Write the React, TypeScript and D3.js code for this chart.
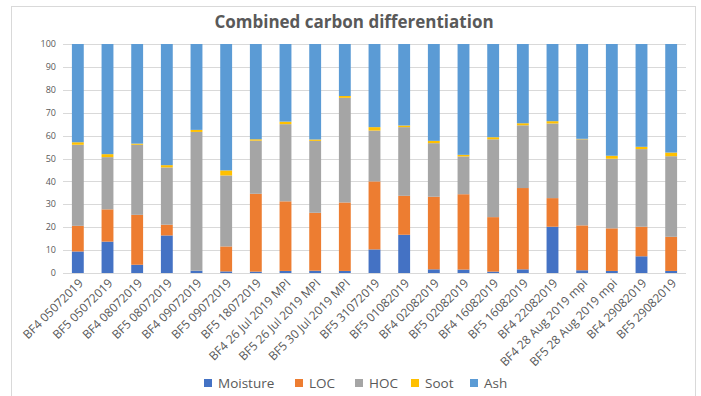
import React from "react";
import * as d3 from "d3";

const categories = [
  "BF4 05072019", "BF5 05072019", "BF4 08072019", "BF5 08072019", "BF4 09072019",
  "BF5 09072019", "BF5 18072019", "BF4 26 Jul 2019 MPI", "BF5 26 Jul 2019 MPI",
  "BF5 30 Jul 2019 MPI", "BF5 31072019", "BF5 01082019", "BF4 02082019", "BF5 02082019",
  "BF4 16082019", "BF5 16082019", "BF4 22082019", "BF4 28 Aug 2019 mpi",
  "BF5 28 Aug 2019 mpi", "BF4 29082019", "BF5 29082019",
];

const moisture = [9.4, 13.7, 3.6, 16.4, 1.0, 0.7, 0.6, 0.9, 1.0, 0.9, 10.3, 16.7, 1.6, 1.5, 0.6, 1.6, 20.2, 1.2, 0.9, 7.3, 0.9];
const loc = [11.2, 14.1, 21.8, 4.7, 0.0, 10.9, 34.0, 30.4, 25.3, 29.9, 29.7, 17.0, 31.7, 32.9, 23.8, 35.5, 12.5, 19.6, 18.6, 12.9, 14.9];
const hoc = [35.4, 22.8, 30.6, 25.0, 60.6, 31.0, 23.2, 33.7, 31.4, 45.7, 22.2, 30.0, 23.4, 16.5, 34.0, 27.4, 32.6, 37.6, 30.4, 33.9, 35.2];
const soot = [1.1, 1.3, 0.5, 1.0, 0.9, 2.2, 0.6, 1.1, 0.6, 0.8, 1.5, 0.7, 1.0, 0.7, 0.9, 0.9, 1.0, 0.2, 1.3, 1.0, 1.6];
const ash = [42.9, 48.1, 43.5, 52.9, 37.5, 55.2, 41.6, 33.9, 41.7, 22.7, 36.3, 35.6, 42.3, 48.4, 40.7, 34.6, 33.7, 41.4, 48.8, 44.9, 47.4];

const seriesNames = ["Moisture", "LOC", "HOC", "Soot", "Ash"];
const seriesValues = [moisture, loc, hoc, soot, ash];
const colors = ["#4472C4", "#ED7D31", "#A5A5A5", "#FFC000", "#5B9BD5"];
const yTicks = [0, 10, 20, 30, 40, 50, 60, 70, 80, 90, 100];

const W = 701;
const H = 396;
const plotLeft = 63;
const plotRight = 686;
const plotTop = 44;
const plotBottom = 273;
const legendX = [204, 295, 355, 411, 470];
const FONT = "'Open Sans', 'Liberation Sans', sans-serif";

export default function App() {
  const x = d3
    .scaleBand<string>()
    .domain(categories)
    .range([plotLeft, plotRight])
    .paddingInner(0.6)
    .paddingOuter(0.3);
  const y = d3.scaleLinear().domain([0, 100]).range([plotBottom, plotTop]);

  const rows = categories.map((c, i) => {
    const r: any = { cat: c };
    seriesNames.forEach((s, k) => (r[s] = seriesValues[k][i]));
    return r;
  });
  const stacked = d3.stack().keys(seriesNames)(rows as any);

  return (
    <svg width={W} height={H} style={{ position: "absolute", left: 0, top: 0, background: "#fff" }}>
      <rect x={11.5} y={6.5} width={684} height={400} fill="#fff" stroke="#d9d9d9" />
      <text x={354} y={28} textAnchor="middle" fontFamily={FONT} fontWeight="bold" fontSize={17} fill="#595959">
        Combined carbon differentiation
      </text>
      {yTicks.map((t) => (
        <g key={t}>
          <line x1={plotLeft} x2={plotRight} y1={Math.round(y(t)) + 0.5} y2={Math.round(y(t)) + 0.5} stroke="#d9d9d9" />
          <text x={56} y={y(t)} dy="0.35em" textAnchor="end" fontFamily={FONT} fontSize={9} fill="#595959">
            {t}
          </text>
        </g>
      ))}
      {stacked.map((layer, k) => (
        <g key={seriesNames[k]} fill={colors[k]}>
          {layer.map((d, i) => (
            <rect
              key={i}
              x={x(categories[i])}
              width={x.bandwidth()}
              y={y(d[1])}
              height={Math.max(0, y(d[0]) - y(d[1]))}
            />
          ))}
        </g>
      ))}
      {categories.map((c) => {
        const cx = (x(c) as number) + x.bandwidth() / 2;
        return (
          <text
            key={c}
            transform={`translate(${cx + 3},${plotBottom + 8}) rotate(-45)`}
            textAnchor="end"
            dy="0.35em"
            fontFamily={FONT}
            fontSize={12}
            fill="#595959"
          >
            {c}
          </text>
        );
      })}
      {seriesNames.map((s, k) => (
        <g key={s}>
          <rect x={legendX[k]} y={379} width={8} height={8} fill={colors[k]} />
          <text x={legendX[k] + 14} y={383} dy="0.35em" fontFamily={FONT} fontSize={13.5} fill="#595959">
            {s}
          </text>
        </g>
      ))}
    </svg>
  );
}
